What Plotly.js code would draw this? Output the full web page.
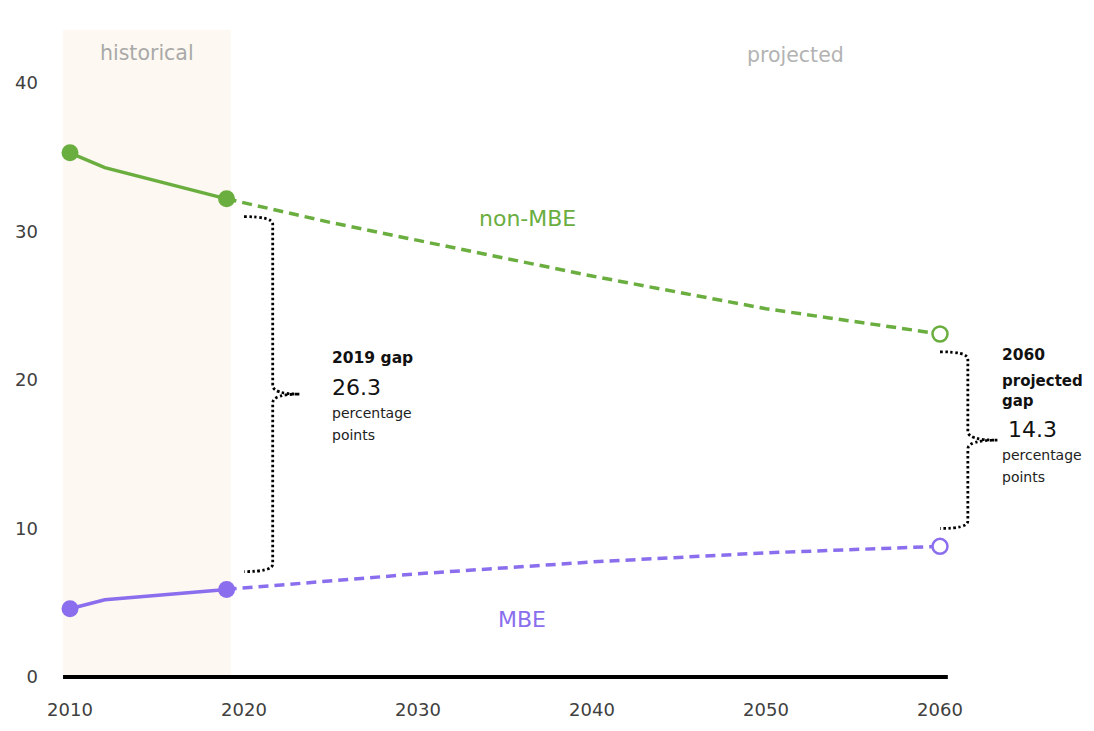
<!DOCTYPE html>
<html>
<head>
<meta charset="utf-8">
<script src="https://cdn.plot.ly/plotly-3.0.1.min.js"></script>
<style>
  html, body { margin: 0; padding: 0; background: #ffffff; }
  #chart { width: 1094px; height: 731px; }
</style>
</head>
<body>
<div id="chart"></div>
<script>
// ---- Data ----
const histYears = [2010, 2012, 2019];
const nonMBEHist = [35.3, 34.3, 32.2];
const mbeHist = [4.6, 5.2, 5.9];

const projYears = [2019, 2025, 2030, 2040, 2050, 2060];
const nonMBEProj = [32.2, 30.6, 29.4, 27.0, 24.8, 23.1];
const mbeProj = [5.9, 6.5, 6.95, 7.75, 8.36, 8.8];

const xTicks = [2010, 2020, 2030, 2040, 2050, 2060];
const yTicks = [0, 10, 20, 30, 40];

const seriesNames = ["non-MBE", "MBE"];
const periodLabels = ["historical", "projected"];

// ---- Styles ----
const GREEN = "#6aae3f";
const PURPLE = "#8a6eee";
const FONT = "DejaVu Sans";

const lastH = histYears.length - 1;
const lastP = projYears.length - 1;

const histMarkerSizes = histYears.map((y, i) => (i === 0 || i === lastH) ? 17 : 0);
const projMarkerSizes = projYears.map((y, i) => (i === lastP) ? 15 : 0);

const traces = [
  { x: histYears, y: nonMBEHist, type: "scatter", mode: "lines+markers",
    line: { color: GREEN, width: 3.5 },
    marker: { color: GREEN, size: histMarkerSizes, opacity: 1, line: { width: 0 } }, hoverinfo: "skip" },
  { x: histYears, y: mbeHist, type: "scatter", mode: "lines+markers",
    line: { color: PURPLE, width: 3.5 },
    marker: { color: PURPLE, size: histMarkerSizes, opacity: 1, line: { width: 0 } }, hoverinfo: "skip" },
  { x: projYears, y: nonMBEProj, type: "scatter", mode: "lines+markers",
    line: { color: GREEN, width: 3.5, dash: "10px,6px" },
    marker: { color: "#ffffff", size: projMarkerSizes, opacity: 1, line: { color: GREEN, width: 2.5 } },
    hoverinfo: "skip" },
  { x: projYears, y: mbeProj, type: "scatter", mode: "lines+markers",
    line: { color: PURPLE, width: 3.5, dash: "10px,6px" },
    marker: { color: "#ffffff", size: projMarkerSizes, opacity: 1, line: { color: PURPLE, width: 2.5 } },
    hoverinfo: "skip" }
];

// gaps derived from the data
const y2019 = histYears[lastH];
const y2060 = projYears[lastP];
const gap2019 = nonMBEHist[lastH] - mbeHist[lastH];
const gap2060 = nonMBEProj[lastP] - mbeProj[lastP];

function bracket(top, bot, x0, xv, xtip) {
  const mid = (top + bot) / 2;
  return "M " + x0 + "," + top +
         " Q " + xv + "," + top + " " + xv + "," + (top - 0.5) +
         " L " + xv + "," + (mid + 0.6) +
         " Q " + xv + "," + mid + " " + xtip + "," + mid +
         " Q " + xv + "," + mid + " " + xv + "," + (mid - 0.6) +
         " L " + xv + "," + (bot + 0.5) +
         " Q " + xv + "," + bot + " " + x0 + "," + bot;
}

const leftTop = nonMBEHist[lastH] - 1.2, leftBot = mbeHist[lastH] + 1.2;
const rightTop = nonMBEProj[lastP] - 1.2, rightBot = mbeProj[lastP] + 1.2;

const shapes = [
  { type: "rect", xref: "x", yref: "paper", x0: 2009.6, x1: 2019.25, y0: 0, y1: 1,
    fillcolor: "#fdf8f1", line: { width: 0 }, layer: "below" },
  { type: "line", xref: "x", yref: "paper", x0: 2009.6, x1: 2060.45, y0: 0, y1: 0,
    line: { color: "#000000", width: 4 }, layer: "above" },
  { type: "path", xref: "x", yref: "y",
    path: bracket(leftTop, leftBot, y2019 + 1.0, y2019 + 2.65, y2019 + 4.2),
    line: { color: "#000000", width: 2.8, dash: "2.5px,2.5px" } },
  { type: "path", xref: "x", yref: "y",
    path: bracket(rightTop, rightBot, y2060 + 0.0, y2060 + 1.6, y2060 + 3.3),
    line: { color: "#000000", width: 2.8, dash: "2.5px,2.5px" } }
];

function txt(x, y, text, size, color, anchor, bold) {
  return { x: x, y: y, xref: "x", yref: "y", text: bold ? "<b>" + text + "</b>" : text,
    showarrow: false, xanchor: anchor, yanchor: "middle",
    font: { family: FONT, size: size, color: color } };
}

const leftX = 2024.95;
const rightX = 2063.45;
const annotations = [
  txt(2014.4, 42.0, periodLabels[0], 20.5, "#a9a9a9", "center"),
  txt(2051.7, 41.9, periodLabels[1], 20.5, "#b3b3b3", "center"),
  txt(2036.3, 30.9, seriesNames[0], 22, GREEN, "center"),
  txt(2036.0, 3.85, seriesNames[1], 22, PURPLE, "center"),
  txt(leftX, 21.5, y2019 + " gap", 15.5, "#111111", "left", true),
  txt(leftX, 19.5, gap2019.toFixed(1), 22, "#111111", "left"),
  txt(leftX, 17.8, "percentage", 14, "#222222", "left"),
  txt(leftX, 16.3, "points", 14, "#222222", "left"),
  txt(rightX, 21.7, String(y2060), 15.5, "#111111", "left", true),
  txt(rightX, 19.95, "projected", 15, "#111111", "left", true),
  txt(rightX, 18.6, "gap", 15, "#111111", "left", true),
  txt(rightX + 0.35, 16.7, gap2060.toFixed(1), 22, "#111111", "left"),
  txt(rightX, 14.95, "percentage", 14, "#222222", "left"),
  txt(rightX, 13.5, "points", 14, "#222222", "left")
];

const pxPerYear = 17.4;
const pxPerUnit = 14.85;
const mL = 50, mR = 10, mT = 30, mB = 54;
const plotW = 1094 - mL - mR, plotH = 731 - mT - mB;
const xStart = 2010 - (70 - mL) / pxPerYear;

const layout = {
  width: 1094, height: 731,
  margin: { l: mL, r: mR, t: mT, b: mB },
  paper_bgcolor: "#ffffff", plot_bgcolor: "#ffffff",
  showlegend: false,
  font: { family: FONT, color: "#404040" },
  xaxis: {
    range: [xStart, xStart + plotW / pxPerYear],
    tickvals: xTicks, ticktext: xTicks.map(String),
    showgrid: false, zeroline: false, showline: false, ticks: "",
    tickfont: { family: FONT, size: 18, color: "#404040" },
    ticklabelstandoff: 20, fixedrange: true
  },
  yaxis: {
    range: [0, plotH / pxPerUnit],
    tickvals: yTicks, ticktext: yTicks.map(String),
    showgrid: false, zeroline: false, showline: false, ticks: "",
    tickfont: { family: FONT, size: 18, color: "#404040" },
    ticklabelstandoff: 11, fixedrange: true
  },
  shapes: shapes,
  annotations: annotations
};

Plotly.newPlot("chart", traces, layout, { displayModeBar: false, staticPlot: true });
</script>
</body>
</html>
